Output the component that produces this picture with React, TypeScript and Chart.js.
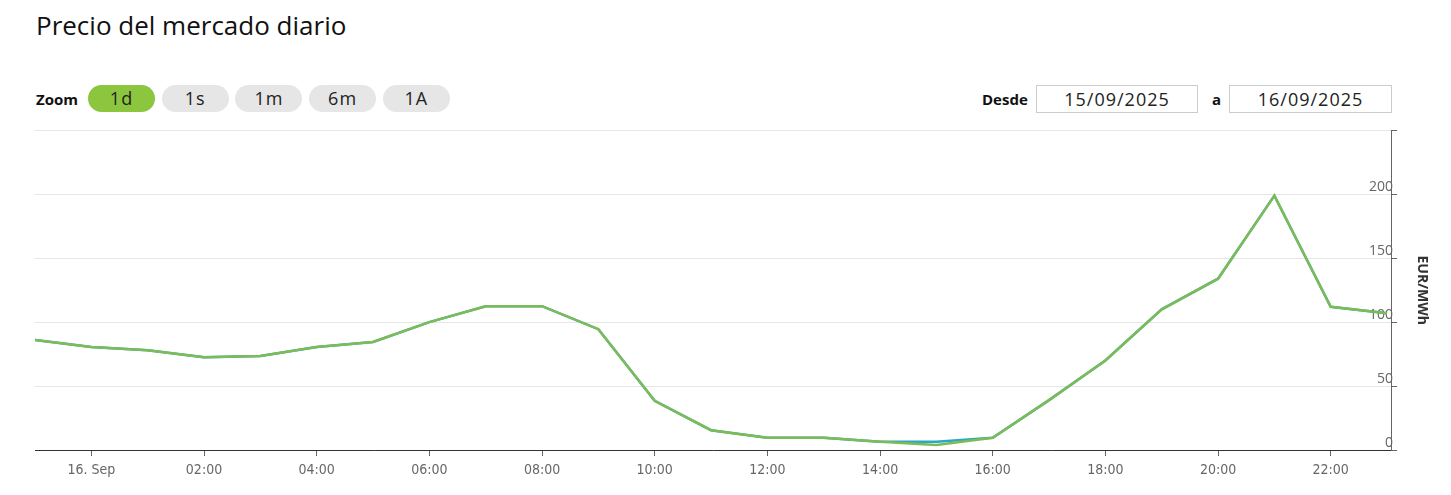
import React, { useEffect, useRef } from "react";
import { Chart, registerables } from "chart.js";

Chart.register(...registerables);

// Hours relative to 16 Sep 00:00 (-1 = 15 Sep 23:00)
const hours = [-1, 0, 1, 2, 3, 4, 5, 6, 7, 8, 9, 10, 11, 12, 13, 14, 15, 16, 17, 18, 19, 20, 21, 22, 23];
const priceBlue = [86, 80.5, 78, 72.5, 73.5, 80.5, 84.5, 100, 112.5, 112.5, 94.5, 38.5, 15.5, 9.5, 9.5, 6.5, 6.5, 9.5, 39, 70, 110, 134, 199, 112, 107];
const priceGreen = [86, 80.5, 78, 72.5, 73.5, 80.5, 84.5, 100, 112.5, 112.5, 94.5, 38.5, 15.5, 9.5, 9.5, 6.5, 4, 9.5, 39, 70, 110, 134, 199, 112, 107];
const xTickValues = [0, 2, 4, 6, 8, 10, 12, 14, 16, 18, 20, 22];
const xTickLabels = ["16. Sep", "02:00", "04:00", "06:00", "08:00", "10:00", "12:00", "14:00", "16:00", "18:00", "20:00", "22:00"];
const yTickValues = [0, 50, 100, 150, 200, 250];
const zoomButtons = ["1d", "1s", "1m", "6m", "1A"];
const fromDate = "15/09/2025";
const toDate = "16/09/2025";

export default function App() {
  const canvasRef = useRef<HTMLCanvasElement | null>(null);

  useEffect(() => {
    document.body.style.margin = "0";
    const canvas = canvasRef.current;
    if (!canvas) return;
    const chart = new Chart(canvas, {
      type: "line",
      data: {
        datasets: [
          {
            label: "Precio",
            data: hours.map((h, i) => ({ x: h, y: priceGreen[i] })),
            borderColor: "#7dbb55",
            borderWidth: 2.5,
            pointRadius: 0,
            tension: 0,
            order: 0,
          },
          {
            label: "Precio (2)",
            data: hours.map((h, i) => ({ x: h, y: priceBlue[i] })),
            borderColor: "#2aa7c9",
            borderWidth: 2.5,
            pointRadius: 0,
            tension: 0,
            order: 1,
          },
        ],
      },
      options: {
        animation: false,
        responsive: false,
        maintainAspectRatio: false,
        layout: { padding: { left: 35, top: 9, right: 0, bottom: 0 } },
        plugins: { legend: { display: false }, tooltip: { enabled: false }, title: { display: false } },
        scales: {
          x: {
            type: "linear",
            min: -1,
            max: 23.07,
            afterBuildTicks: (scale: any) => {
              scale.ticks = xTickValues.map((v) => ({ value: v }));
            },
            afterFit: (scale: any) => {
              scale.height = 45;
            },
            ticks: {
              autoSkip: false,
              maxRotation: 0,
              padding: 6,
              color: "#666666",
              font: { family: "'Liberation Sans Narrow', 'DejaVu Sans Condensed', sans-serif", size: 14 },
              callback: (v: any) => {
                const idx = xTickValues.indexOf(Number(v));
                return idx >= 0 ? xTickLabels[idx] : "";
              },
            },
            grid: { drawOnChartArea: false, drawTicks: true, tickLength: 6, tickColor: "#666666" },
            border: { display: true, color: "#333333", width: 1 },
          },
          y: {
            position: "right",
            min: 0,
            max: 250,
            afterBuildTicks: (scale: any) => {
              scale.ticks = yTickValues.map((v) => ({ value: v }));
            },
            afterFit: (scale: any) => {
              scale.width = 60;
            },
            ticks: {
              mirror: true,
              padding: 2,
              labelOffset: -7,
              color: "#666666",
              font: { family: "'Open Sans', sans-serif", size: 14 },
              callback: (v: any) => (Number(v) === 250 ? "" : String(v)),
            },
            grid: { color: "#e6e6e6", lineWidth: 1, drawTicks: true, tickLength: 6, tickColor: "#666666" },
            border: { display: true, color: "#666666", width: 1 },
            title: {
              display: true,
              text: "EUR/MWh",
              color: "#333333",
              font: { family: "'Open Sans', sans-serif", size: 14, weight: "bold" },
              padding: { top: 21, bottom: 0 },
            },
          },
        },
      },
    });
    return () => chart.destroy();
  }, []);

  const font = "'Open Sans', 'DejaVu Sans', sans-serif";

  return (
    <div style={{ position: "relative", width: 1451, height: 495, background: "#fff", overflow: "hidden", fontFamily: font }}>
      <div style={{ position: "absolute", left: 36, top: 8, fontSize: 26, color: "#111", whiteSpace: "nowrap", lineHeight: "34px" }}>
        Precio del mercado diario
      </div>
      <div style={{ position: "absolute", left: 36, top: 88, fontSize: 15, fontWeight: 700, color: "#111", lineHeight: "22px" }}>
        Zoom
      </div>
      {zoomButtons.map((b, i) => (
        <div
          key={b}
          style={{
            position: "absolute",
            left: 88 + i * 73.7,
            top: 85,
            width: 67,
            height: 27,
            borderRadius: 13.5,
            background: i === 0 ? "#8cc63f" : "#e6e6e6",
            color: "#222",
            fontSize: 18,
            lineHeight: "27px",
            textAlign: "center",
            letterSpacing: 1,
          }}
        >
          {b}
        </div>
      ))}
      <div style={{ position: "absolute", left: 982, top: 88, fontSize: 15, fontWeight: 700, color: "#111", lineHeight: "22px" }}>
        Desde
      </div>
      <div
        style={{
          position: "absolute",
          left: 1036,
          top: 85,
          width: 160,
          height: 26,
          border: "1px solid #cccccc",
          fontSize: 18,
          lineHeight: "26px",
          textAlign: "center",
          color: "#222",
          letterSpacing: 1,
        }}
      >
        {fromDate}
      </div>
      <div style={{ position: "absolute", left: 1212, top: 88, fontSize: 15, fontWeight: 700, color: "#111", lineHeight: "22px" }}>
        a
      </div>
      <div
        style={{
          position: "absolute",
          left: 1229,
          top: 85,
          width: 161,
          height: 26,
          border: "1px solid #cccccc",
          fontSize: 18,
          lineHeight: "26px",
          textAlign: "center",
          color: "#222",
          letterSpacing: 1,
        }}
      >
        {toDate}
      </div>
      <canvas ref={canvasRef} width={1451} height={375} style={{ position: "absolute", left: 0, top: 120, width: 1451, height: 375 }} />
    </div>
  );
}
